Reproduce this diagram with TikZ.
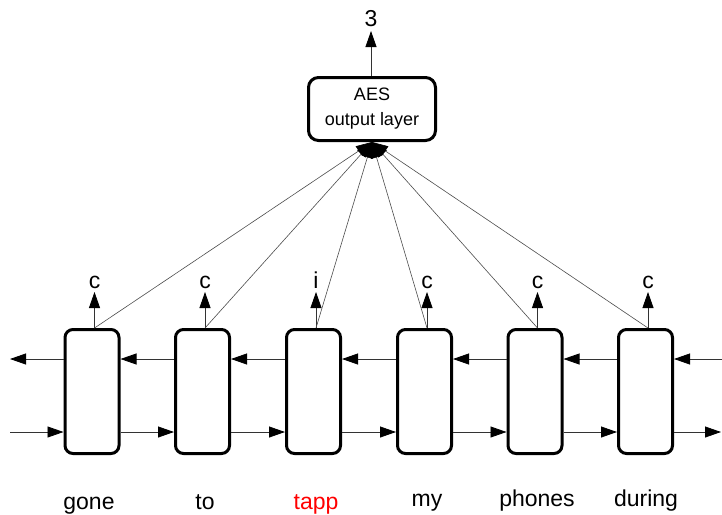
\documentclass[tikz,border=0pt]{standalone}
\usepackage{fontspec}
\setmainfont{Liberation Sans}
\usetikzlibrary{arrows.meta}
\begin{document}
\begin{tikzpicture}[x=1pt,y=-1pt,
  cell/.style={draw,line width=3pt,rounded corners=8pt,minimum width=54pt,minimum height=124pt,inner sep=0pt},
  outbox/.style={draw,line width=3pt,rounded corners=10pt,minimum width=127pt,minimum height=63pt,inner sep=0pt,align=center,font=\fontsize{18}{25}\selectfont},
  conn/.style={draw=black!80,line width=0.8pt,-{Triangle[length=16pt,width=11pt,color=black]}},
  feed/.style={draw=black!70,line width=0.6pt,-{Triangle[length=16pt,width=11pt,color=black]}},
  lab/.style={font=\fontsize{23}{27}\selectfont,inner sep=0pt,anchor=base},
  word/.style={font=\fontsize{23}{27}\selectfont,inner sep=0pt,anchor=base}
]
\useasboundingbox (0,0) rectangle (722,514);

\node[outbox] (out) at (372,109) {AES\\output layer};
\coordinate (outtop) at (371,76);
\node[lab] (three) at (371,26) {3};
\coordinate (ttip) at (371,31);
\draw[conn] (outtop) -- (ttip);

% cells
\foreach \i/\x in {1/92,2/202.5,3/313.5,4/424.5,5/535,6/645.5}{
  \node[cell] (b\i) at (\x,391.5) {};
}

% labels above
\foreach \i/\t in {1/c,2/c,3/i,4/c,5/c,6/c}{
  \coordinate (t\i) at ([xshift=2.5pt]b\i.north);
  \node[lab] (l\i) at ([yshift=40pt]t\i) {\t};
  \coordinate (a\i) at ([yshift=36pt]t\i);
  \draw[conn] (t\i) -- (a\i);
}

% lines to output layer
\foreach \i in {1,...,6}{
  \draw[feed] (t\i) -- (out.south);
}

% horizontal arrows
\coordinate (ul) at (10,359);
\coordinate (ur) at (722,359);
\coordinate (ll) at (10,432);
\coordinate (lr) at (721,432);
\draw[conn] (b1.west |- ul) -- (ul);
\draw[conn] (ll) -- (b1.west |- ll);
\foreach \i/\j in {1/2,2/3,3/4,4/5,5/6}{
  \draw[conn] (b\j.west |- ul) -- (b\i.east |- ul);
  \draw[conn] (b\i.east |- ll) -- (b\j.west |- ll);
}
\draw[conn] (ur) -- (b6.east |- ur);
\draw[conn] (b6.east |- lr) -- (lr);

% words
\node[word] (w1) at (89,509) {gone};
\node[word] (w2) at (205,509) {to};
\node[word,text=red] (w3) at (316,509) {tapp};
\node[word] (w4) at (427,506) {my};
\node[word] (w5) at (537,506) {phones};
\node[word] (w6) at (646,506) {during};
\end{tikzpicture}
\end{document}
